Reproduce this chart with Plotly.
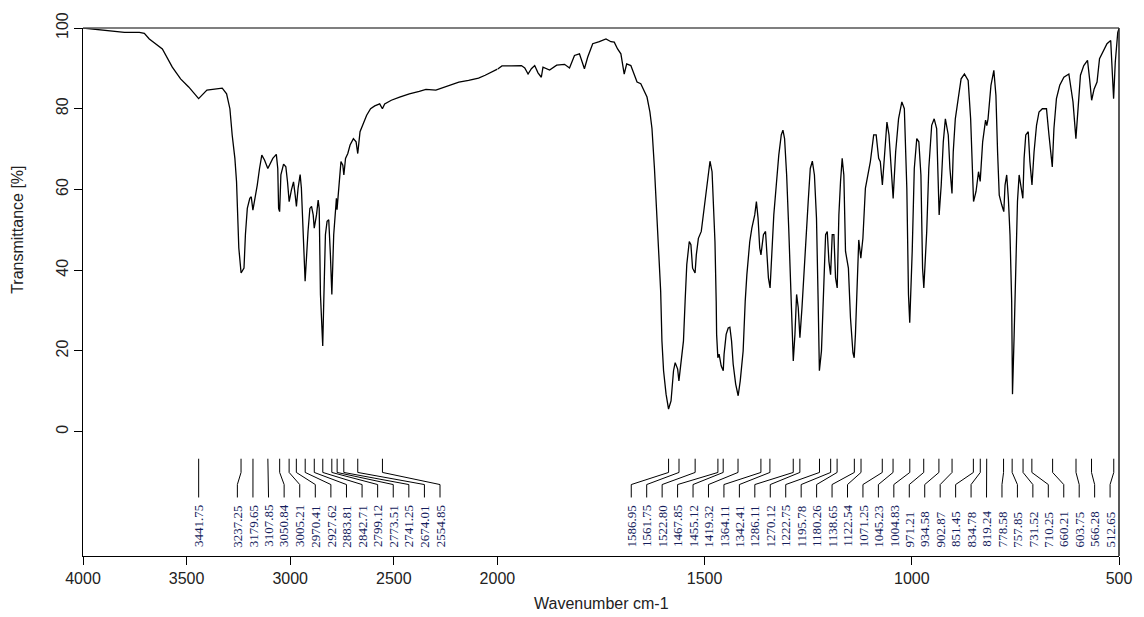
import numpy as np
import plotly.graph_objects as go

# ---------------- data ----------------
WAVENUMBER = [
    4000, 3943, 3871, 3800, 3728, 3704, 3680, 3617, 3569, 3529, 3490, 3442, 3402, 3362, 3328, 3307,
    3291, 3280, 3267, 3259, 3255, 3248, 3237, 3223, 3216, 3207, 3195, 3188, 3180, 3172, 3159, 3148,
    3137, 3124, 3108, 3084, 3067, 3060, 3056, 3051, 3045, 3032, 3021, 3013, 3005, 2994, 2984, 2976,
    2970, 2962, 2952, 2946, 2941, 2933, 2928, 2914, 2905, 2897, 2889, 2884, 2873, 2865, 2860, 2854,
    2843, 2838, 2830, 2822, 2814, 2806, 2799, 2790, 2782, 2777, 2774, 2769, 2766, 2755, 2746, 2741,
    2733, 2722, 2711, 2695, 2682, 2674, 2663, 2647, 2631, 2612, 2592, 2568, 2555, 2544, 2512, 2472,
    2425, 2377, 2345, 2297, 2250, 2186, 2139, 2091, 2059, 2011, 2000,
    1989, 1966, 1942, 1934, 1926, 1918, 1910, 1902, 1894, 1890, 1874, 1857, 1838, 1826, 1814, 1802,
    1790, 1782, 1770, 1754, 1738, 1726, 1718, 1710, 1702, 1694, 1688, 1678, 1670, 1663, 1654, 1646,
    1639, 1632, 1627, 1621, 1616, 1611, 1606, 1603, 1599, 1593, 1587, 1581, 1575, 1571, 1565, 1562,
    1556, 1551, 1547, 1543, 1537, 1533, 1529, 1523, 1520, 1515, 1508, 1503, 1497, 1491, 1487, 1482,
    1479, 1475, 1472, 1471, 1468, 1465, 1460, 1455, 1453, 1448, 1443, 1439, 1435, 1431, 1425, 1419,
    1414, 1407, 1402, 1398, 1391, 1386, 1379, 1375, 1371, 1367, 1364, 1358, 1353, 1349, 1346, 1342,
    1338, 1333, 1327, 1321, 1315, 1311, 1307, 1302, 1297, 1293, 1289, 1286, 1282, 1278, 1274, 1270,
    1265, 1260, 1256, 1250, 1245, 1240, 1235, 1230, 1226, 1223, 1218, 1213, 1208, 1204, 1200, 1196,
    1192, 1188, 1184, 1180, 1176, 1172, 1168, 1164, 1160, 1153, 1148, 1142, 1139, 1136, 1132, 1128,
    1123, 1118, 1112, 1104, 1100, 1092, 1086, 1080, 1076, 1071, 1066, 1060, 1055, 1048, 1045, 1039,
    1032, 1024, 1018, 1012, 1008, 1005, 999, 994, 988, 983, 978, 974, 971, 964, 959, 952,
    946, 940, 937, 934, 929, 924, 919, 912, 908, 903, 900, 895, 888, 881, 873, 864,
    858, 855, 851, 845, 839, 835, 829, 822, 819, 816, 809, 802, 797, 793, 789, 783,
    778, 775, 771, 767, 763, 759, 757, 753, 749, 745, 741, 737, 732, 729, 725, 719,
    715, 710, 705, 699, 693, 685, 675, 669, 661, 657, 651, 643, 633, 621, 616, 611,
    604, 600, 593, 585, 576, 571, 566, 560, 553, 547, 538, 529, 520, 517, 513, 509,
    503, 500,
]
TRANSMITTANCE = [
    100.0, 99.7, 99.2, 98.9, 98.9, 98.7, 97.3, 94.8, 90.3, 87.4, 85.4, 82.5, 84.6, 84.9, 85.1, 83.7,
    80.0, 73.5, 67.7, 61.9, 54.5, 45.5, 39.3, 40.5, 48.9, 55.3, 57.8, 58.2, 54.9, 57.0, 61.1, 65.2,
    68.5, 67.3, 65.2, 67.7, 68.7, 65.2, 55.3, 54.5, 63.6, 66.3, 65.6, 61.9, 57.0, 59.9, 61.9, 58.6,
    55.8, 60.3, 63.7, 60.3, 52.9, 43.8, 37.3, 49.6, 55.3, 55.8, 53.7, 50.4, 53.7, 57.4, 55.3, 34.0,
    21.2, 32.3, 48.8, 52.1, 52.5, 43.8, 34.0, 48.8, 56.2, 57.8, 55.0, 58.5, 61.1, 66.9, 66.0, 63.6,
    67.7, 68.9, 71.0, 72.6, 71.8, 68.9, 74.3, 76.3, 78.4, 80.0, 80.7, 81.2, 80.0, 81.2, 82.1, 82.9,
    83.7, 84.3, 84.8, 84.6, 85.5, 86.6, 87.0, 87.6, 88.3, 89.5, 89.8,
    90.6, 90.6, 90.7, 90.1, 88.6, 89.9, 90.7, 88.9, 87.8, 90.3, 89.6, 90.8, 91.0, 90.1, 93.2, 93.6,
    89.9, 92.8, 96.1, 96.6, 97.3, 96.6, 96.5, 94.8, 93.6, 88.6, 91.1, 90.7, 88.6, 86.6, 86.2, 84.6,
    82.9, 79.2, 75.1, 65.2, 55.3, 46.3, 34.8, 22.5, 15.1, 9.3, 5.6, 7.6, 15.1, 17.1, 15.5, 12.6,
    17.5, 22.5, 32.3, 41.4, 47.1, 46.3, 40.5, 39.3, 43.8, 47.9, 49.6, 53.7, 57.8, 63.6, 67.0, 64.4,
    57.8, 47.1, 32.3, 24.1, 18.3, 19.2, 16.3, 15.1, 19.2, 24.1, 25.7, 25.9, 22.5, 16.7, 11.8, 8.9,
    12.6, 20.0, 32.3, 38.9, 47.1, 50.4, 53.7, 57.0, 52.9, 45.5, 43.8, 48.8, 49.6, 43.8, 38.1, 35.6,
    43.8, 53.7, 61.1, 68.5, 73.5, 74.7, 72.6, 63.6, 50.4, 36.4, 25.7, 17.5, 24.1, 34.0, 30.7, 23.3,
    30.7, 40.5, 48.8, 57.0, 65.2, 67.0, 63.6, 52.9, 32.3, 15.1, 20.0, 34.8, 48.8, 49.6, 42.2, 38.9,
    48.8, 48.8, 38.1, 35.6, 53.7, 61.9, 67.7, 63.6, 44.7, 40.5, 28.2, 19.5, 18.3, 24.1, 38.9, 47.5,
    43.0, 47.9, 60.3, 65.2, 66.9, 73.5, 73.5, 67.7, 66.9, 61.1, 69.3, 76.7, 73.5, 61.9, 57.8, 69.3,
    77.5, 81.7, 80.0, 60.3, 34.0, 27.0, 44.7, 65.2, 72.6, 71.8, 63.6, 40.5, 35.6, 49.6, 65.2, 75.9,
    77.5, 75.1, 65.2, 53.7, 61.1, 71.8, 77.5, 73.5, 65.2, 59.0, 69.3, 77.5, 82.5, 87.4, 88.6, 87.0,
    77.5, 66.9, 57.0, 59.5, 64.4, 62.0, 71.8, 77.2, 75.8, 77.5, 85.8, 89.5, 83.3, 69.3, 58.6, 56.2,
    54.5, 61.1, 63.6, 57.8, 48.8, 32.3, 9.3, 24.1, 44.7, 57.0, 63.6, 61.1, 57.8, 67.7, 73.5, 74.3,
    66.9, 61.1, 69.3, 75.9, 79.2, 80.0, 80.0, 73.5, 65.6, 75.1, 82.5, 85.8, 87.8, 88.6, 84.9, 81.7,
    72.6, 79.2, 88.3, 90.7, 92.0, 87.4, 82.1, 84.9, 86.6, 92.4, 94.4, 96.1, 96.9, 90.3, 82.5, 91.5,
    98.9, 99.8,
]
PEAKS = [
    3441.75, 3237.25, 3179.65, 3107.85, 3050.84, 3005.21, 2970.41, 2927.62, 2883.81, 2842.71,
    2799.12, 2773.51, 2741.25, 2674.01, 2554.85,
    1586.95, 1561.75, 1522.80, 1467.85, 1455.12, 1419.32, 1364.11, 1342.41, 1286.11, 1270.12,
    1222.75, 1195.78, 1180.26, 1138.65, 1122.54, 1071.25, 1045.23, 1004.83, 971.21, 934.58,
    902.87, 851.45, 834.78, 819.24, 778.58, 757.85, 731.52, 710.25, 660.21, 603.75, 566.28, 512.65,
]
X_TICKS_HIGH = [4000, 3500, 3000, 2500]
X_TICKS_LOW = [2000, 1500, 1000, 500]
Y_TICKS = [0, 20, 40, 60, 80, 100]

# ---------------- layout constants ----------------
SPLIT = 2000                     # axis scale changes (x2) below 2000 cm-1
HIGH_LABEL_SPAN = (3255, 2277)   # spread of crowded high-wavenumber labels
LOW_LABEL_SPAN = (1677, 521.5)   # spread of low-wavenumber labels
Y_TOP, Y_B1, Y_B2, Y_BOT = -6.7, -10.1, -13.1, -16.3
LABEL_BASE = -28.9
Y_RANGE = [-30.8, 100]

wn = np.array(WAVENUMBER, dtype=float)
tr = np.array(TRANSMITTANCE, dtype=float)
hi = wn >= SPLIT
lo = wn <= SPLIT

fig = go.Figure()
line_style = dict(color="black", width=1.3)
fig.add_trace(go.Scatter(x=wn[hi], y=tr[hi], xaxis="x", yaxis="y", mode="lines",
                         line=line_style, hoverinfo="skip", showlegend=False))
fig.add_trace(go.Scatter(x=wn[lo], y=tr[lo], xaxis="x2", yaxis="y", mode="lines",
                         line=line_style, hoverinfo="skip", showlegend=False))

# label positions
high_peaks = [p for p in PEAKS if p >= SPLIT]
low_peaks = [p for p in PEAKS if p < SPLIT]
high_label_x = [high_peaks[0]] + list(np.linspace(HIGH_LABEL_SPAN[0], HIGH_LABEL_SPAN[1], len(high_peaks) - 1))
low_label_x = list(np.linspace(LOW_LABEL_SPAN[0], LOW_LABEL_SPAN[1], len(low_peaks)))

annotations = []
for group, labx, xref in ((high_peaks, high_label_x, "x"), (low_peaks, low_label_x, "x2")):
    xs, ys = [], []
    for p, lx in zip(group, labx):
        xs += [p, p, lx, lx, None]
        ys += [Y_TOP, Y_B1, Y_B2, Y_BOT, None]
        annotations.append(dict(
            text=f"{p:.2f}", x=lx, y=LABEL_BASE, xref=xref, yref="y",
            textangle=-90, xanchor="center", yanchor="bottom", showarrow=False,
            font=dict(family="Liberation Serif", size=13, color="#141c5c"),
            borderpad=0,
        ))
    fig.add_trace(go.Scatter(x=xs, y=ys, xaxis=xref, yaxis="y",
                             mode="lines", line=dict(color="black", width=1),
                             hoverinfo="skip", showlegend=False))

axis_font = dict(family="Liberation Sans", size=16, color="#222")
common_x = dict(showgrid=False, zeroline=False, showline=True, linecolor="black", linewidth=1,
                ticks="outside", ticklen=8, tickcolor="black", tickfont=axis_font, anchor="y")

annotations.append(dict(text="Wavenumber cm-1", x=0.5, y=0, xref="paper", yref="paper",
                        xanchor="center", yanchor="middle", yshift=-47, showarrow=False,
                        font=axis_font))
annotations.append(dict(text="Transmittance [%]", x=0, y=50, xref="paper", yref="y",
                        xanchor="center", yanchor="middle", xshift=-65, textangle=-90,
                        showarrow=False, font=axis_font))

fig.update_layout(
    width=1144, height=617,
    margin=dict(l=83, r=15, t=26, b=61),
    paper_bgcolor="white", plot_bgcolor="white",
    xaxis=dict(domain=[0, 0.4], range=[4000, SPLIT], tickvals=X_TICKS_HIGH,
               ticktext=[str(v) for v in X_TICKS_HIGH], **common_x),
    xaxis2=dict(domain=[0.4, 1], range=[SPLIT, 500], tickvals=X_TICKS_LOW,
                ticktext=[str(v) for v in X_TICKS_LOW], **common_x),
    yaxis=dict(range=Y_RANGE, tickvals=Y_TICKS, showgrid=False, zeroline=False, showline=True,
               linecolor="black", linewidth=1, ticks="outside", ticklen=8, tickcolor="black",
               tickangle=-90, tickfont=axis_font, anchor="x"),
    annotations=annotations,
    shapes=[
        dict(type="line", xref="paper", yref="paper", x0=0, x1=1, y0=1, y1=1,
             line=dict(color="#555", width=1.5)),
        dict(type="line", xref="paper", yref="paper", x0=1, x1=1, y0=0, y1=1,
             line=dict(color="#222", width=1.5)),
    ],
)

fig.write_html("out.html")
